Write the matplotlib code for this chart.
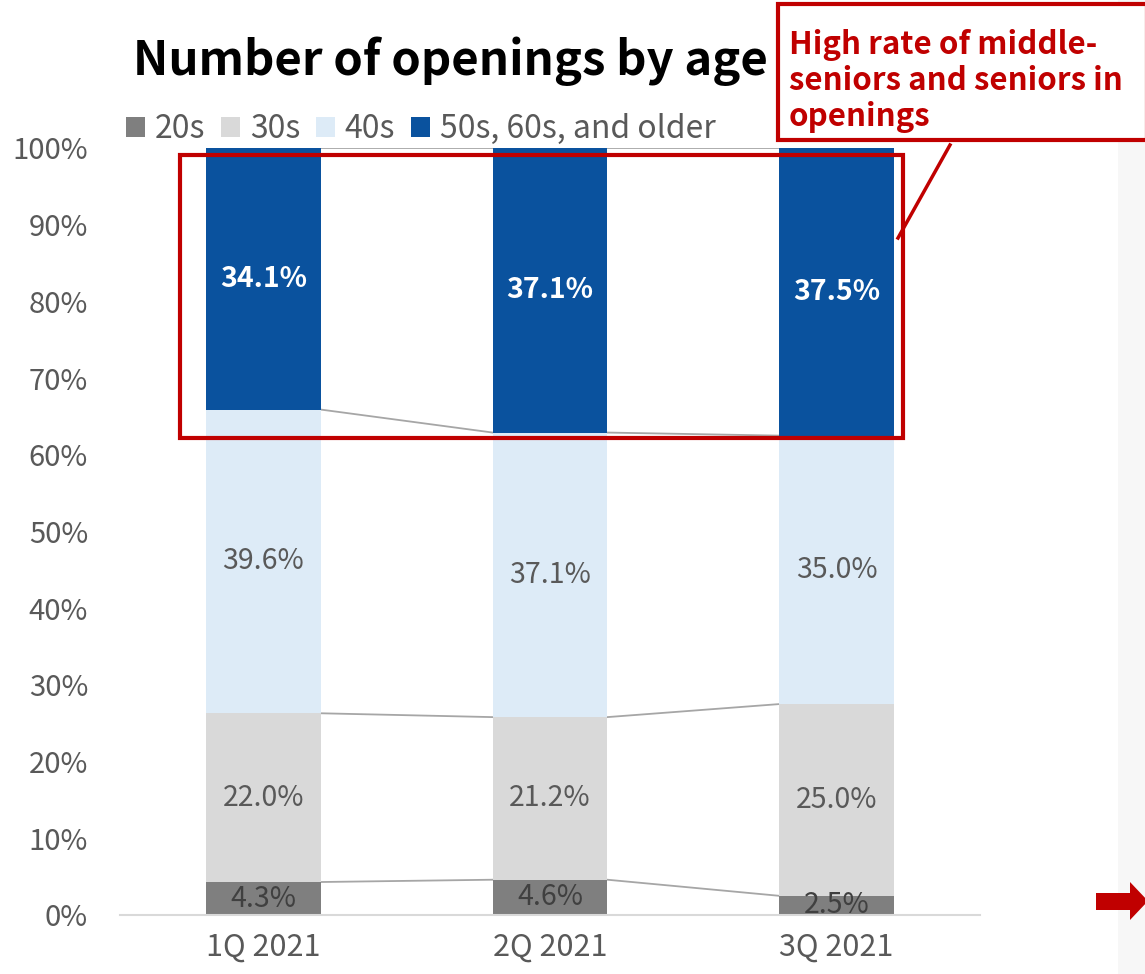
import matplotlib
matplotlib.use("Agg")
import matplotlib.pyplot as plt
from matplotlib.patches import Rectangle, Polygon
import numpy as np

plt.rcParams['font.family'] = ['Noto Sans CJK JP', 'DejaVu Sans']

categories = ["1Q 2021", "2Q 2021", "3Q 2021"]
series_names = ["20s", "30s", "40s", "50s, 60s, and older"]
v20 = [4.3, 4.6, 2.5]
v30 = [22.0, 21.2, 25.0]
v40 = [39.6, 37.1, 35.0]
v50 = [34.1, 37.1, 37.5]
yticks = [0, 10, 20, 30, 40, 50, 60, 70, 80, 90, 100]

colors = ["#7F7F7F", "#D9D9D9", "#DDEBF7", "#0A529E"]
label_colors = ["#404040", "#595959", "#595959", "white"]

W, H = 1145, 974
fig = plt.figure(figsize=(W / 100, H / 100), dpi=100)

def px(x0, y0, x1, y1):
    return [x0 / W, 1 - y1 / H, (x1 - x0) / W, (y1 - y0) / H]

# light gray side panel
fig.patches.append(Rectangle((1118 / W, 0), (W - 1118) / W, 1, transform=fig.transFigure,
                             facecolor="#F7F7F7", edgecolor="none", zorder=0))

ax = fig.add_axes(px(120, 148, 980, 915))
ax.set_facecolor("none")
x = np.arange(len(categories))
bw = 0.4
series = [v20, v30, v40, v50]
bottom = np.zeros(len(categories))
tops = []
for i, (vals, c) in enumerate(zip(series, colors)):
    vals = np.array(vals)
    ax.bar(x, vals, bw, bottom=bottom, color=c, zorder=2, label=series_names[i])
    for xi, b, v in zip(x, bottom, vals):
        ax.text(xi, b + v / 2, f"{v:.1f}%", ha="center", va="center",
                fontsize=20.5, color=label_colors[i],
                fontweight="bold" if i == 3 else "normal", zorder=4)
    bottom = bottom + vals
    tops.append(bottom.copy())

# series connector lines
for t in tops:
    for j in range(len(categories) - 1):
        ax.plot([x[j] + bw / 2, x[j + 1] - bw / 2], [t[j], t[j + 1]],
                color="#A6A6A6", lw=1.3, zorder=1)

ax.set_xlim(-0.5, 2.5)
ax.set_ylim(0, 100)
ax.set_yticks(yticks)
ax.set_yticklabels([f"{v}%" for v in yticks])
ax.set_xticks(x)
ax.set_xticklabels(categories)
ax.tick_params(axis="both", length=0, labelsize=21, colors="#595959")
ax.tick_params(axis="y", pad=23)
ax.tick_params(axis="x", labelsize=22, pad=12)
for s in ["top", "right", "left"]:
    ax.spines[s].set_visible(False)
ax.spines["bottom"].set_color("#D9D9D9")
ax.spines["bottom"].set_linewidth(1.5)

# legend
handles, labels = ax.get_legend_handles_labels()
fig.legend(handles, labels, loc="center left", bbox_to_anchor=(126 / W, 1 - 129 / H),
           ncol=4, frameon=False, fontsize=23, labelcolor="#595959",
           handlelength=0.6, handleheight=0.6, handletextpad=0.3, columnspacing=0.5,
           borderpad=0, borderaxespad=0)

# title
fig.text(133 / W, 1 - 61 / H, "Number of openings by age", fontsize=34, fontweight="bold",
         color="black", va="center", ha="left")

# red highlight rectangle
fig.patches.append(Rectangle((180 / W, 1 - 438 / H), (903 - 180) / W, (438 - 155) / H,
                             transform=fig.transFigure, facecolor="none",
                             edgecolor="#C00000", lw=3, zorder=5))

# callout line
fig.lines.append(plt.Line2D([950 / W, 898 / W], [1 - 145 / H, 1 - 238 / H],
                            transform=fig.transFigure, color="#C00000", lw=2.5, zorder=5))

# callout box
fig.patches.append(Rectangle((778 / W, 1 - 140 / H), (W - 776) / W, (140 - 4) / H,
                             transform=fig.transFigure, facecolor="white",
                             edgecolor="#C00000", lw=3, zorder=6))
fig.text(789 / W, 1 - 81 / H, "High rate of middle-\nseniors and seniors in\nopenings",
         fontsize=22.5, fontweight="bold", color="#C00000", va="center", ha="left",
         linespacing=1.17, zorder=7)

# red arrow
arrow = [(1096, 893), (1130, 893), (1130, 882), (1148, 901), (1130, 920), (1130, 910), (1096, 910)]
fig.patches.append(Polygon([(a / W, 1 - b / H) for a, b in arrow], closed=True,
                           transform=fig.transFigure, facecolor="#C00000", edgecolor="none", zorder=5))

fig.savefig("out.png", dpi=100)
